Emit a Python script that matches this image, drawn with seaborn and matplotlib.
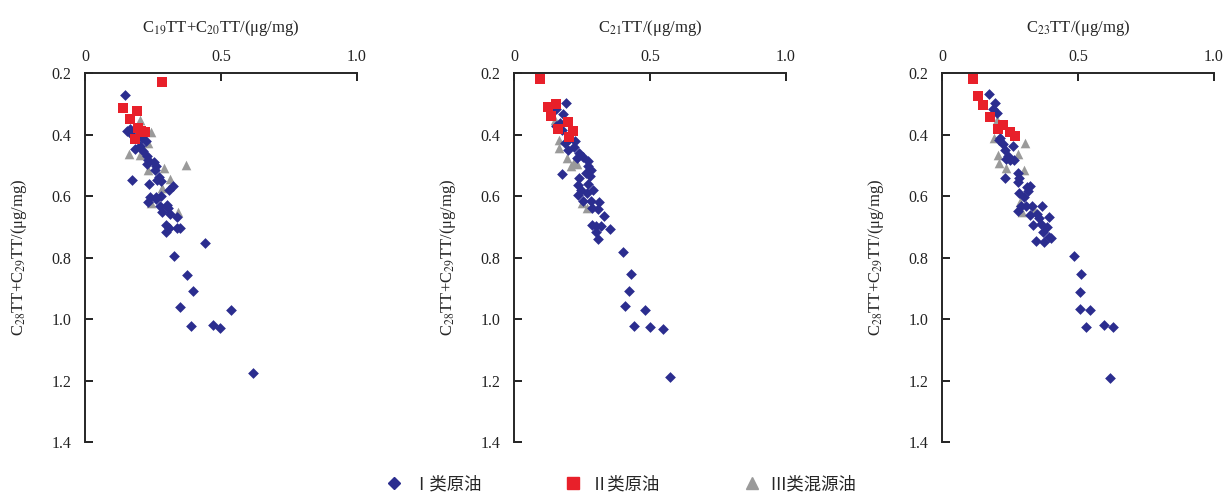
import pandas as pd
import matplotlib.pyplot as plt
import seaborn as sns

# --- data (x, y per oil class, per panel) ---
# panel 1: C19TT+C20TT
p1_I_x = [0.147, 0.153, 0.167, 0.173, 0.208, 0.224, 0.201, 0.183, 0.214, 0.229, 0.232, 0.228, 0.253, 0.262,
          0.256, 0.271, 0.265, 0.278, 0.234, 0.173, 0.324, 0.309, 0.281, 0.262, 0.240, 0.232, 0.260, 0.275,
          0.302, 0.305, 0.284, 0.314, 0.338, 0.297, 0.308, 0.297, 0.339, 0.350, 0.442, 0.327, 0.375, 0.397,
          0.350, 0.536, 0.391, 0.469, 0.497, 0.619]
p1_I_y = [0.271, 0.390, 0.381, 0.403, 0.412, 0.420, 0.437, 0.448, 0.455, 0.471, 0.482, 0.496, 0.491, 0.502,
          0.515, 0.537, 0.547, 0.550, 0.562, 0.547, 0.566, 0.582, 0.600, 0.602, 0.604, 0.618, 0.610, 0.634,
          0.629, 0.640, 0.651, 0.659, 0.669, 0.694, 0.703, 0.716, 0.703, 0.705, 0.752, 0.795, 0.857, 0.909,
          0.961, 0.970, 1.023, 1.020, 1.028, 1.175]
p1_II_x = [0.283, 0.138, 0.192, 0.165, 0.195, 0.222, 0.183, 0.205]
p1_II_y = [0.229, 0.314, 0.322, 0.349, 0.379, 0.393, 0.415, 0.388]
p1_III_x = [0.204, 0.244, 0.161, 0.201, 0.231, 0.232, 0.291, 0.370, 0.314, 0.283, 0.343, 0.244]
p1_III_y = [0.352, 0.392, 0.464, 0.466, 0.428, 0.515, 0.509, 0.499, 0.545, 0.575, 0.651, 0.623]

# panel 2: C21TT
p2_I_x = [0.190, 0.154, 0.181, 0.169, 0.154, 0.176, 0.187, 0.203, 0.224, 0.221, 0.199, 0.239, 0.255, 0.233,
          0.271, 0.271, 0.283, 0.263, 0.279, 0.239, 0.178, 0.234, 0.273, 0.289, 0.245, 0.267, 0.234, 0.255,
          0.282, 0.313, 0.286, 0.310, 0.332, 0.286, 0.301, 0.320, 0.353, 0.300, 0.308, 0.400, 0.429, 0.422,
          0.407, 0.483, 0.440, 0.500, 0.549, 0.575]
p2_I_y = [0.296, 0.316, 0.332, 0.361, 0.372, 0.385, 0.426, 0.415, 0.420, 0.441, 0.450, 0.461, 0.474, 0.477,
          0.486, 0.502, 0.517, 0.524, 0.534, 0.542, 0.529, 0.564, 0.562, 0.580, 0.582, 0.589, 0.598, 0.616,
          0.616, 0.620, 0.640, 0.642, 0.665, 0.694, 0.696, 0.697, 0.707, 0.716, 0.741, 0.783, 0.854, 0.908,
          0.957, 0.971, 1.022, 1.027, 1.033, 1.188]
p2_II_x = [0.096, 0.126, 0.154, 0.135, 0.197, 0.163, 0.216, 0.202]
p2_II_y = [0.220, 0.309, 0.301, 0.339, 0.360, 0.382, 0.390, 0.408]
p2_III_x = [0.151, 0.167, 0.167, 0.194, 0.210, 0.233, 0.221, 0.249, 0.270]
p2_III_y = [0.352, 0.417, 0.444, 0.475, 0.504, 0.496, 0.488, 0.623, 0.640]

# panel 3: C23TT
p3_I_x = [0.173, 0.196, 0.187, 0.204, 0.208, 0.214, 0.224, 0.261, 0.232, 0.242, 0.236, 0.251, 0.266, 0.233,
          0.278, 0.282, 0.278, 0.312, 0.324, 0.318, 0.282, 0.303, 0.290, 0.310, 0.330, 0.367, 0.278, 0.324,
          0.351, 0.356, 0.394, 0.333, 0.364, 0.386, 0.370, 0.392, 0.400, 0.345, 0.376, 0.487, 0.510, 0.506,
          0.507, 0.543, 0.529, 0.596, 0.628, 0.619]
p3_I_y = [0.269, 0.298, 0.317, 0.330, 0.417, 0.410, 0.430, 0.439, 0.450, 0.471, 0.480, 0.482, 0.484, 0.542,
          0.526, 0.542, 0.556, 0.571, 0.569, 0.583, 0.591, 0.604, 0.631, 0.634, 0.631, 0.634, 0.649, 0.663,
          0.660, 0.672, 0.669, 0.695, 0.692, 0.701, 0.716, 0.732, 0.737, 0.745, 0.748, 0.794, 0.854, 0.913,
          0.968, 0.970, 1.025, 1.018, 1.025, 1.193]
p3_II_x = [0.114, 0.132, 0.149, 0.175, 0.224, 0.206, 0.251, 0.269]
p3_II_y = [0.218, 0.276, 0.303, 0.344, 0.368, 0.382, 0.393, 0.406]
p3_III_x = [0.202, 0.190, 0.304, 0.206, 0.278, 0.211, 0.236, 0.300, 0.288, 0.294, 0.337]
p3_III_y = [0.352, 0.412, 0.428, 0.466, 0.463, 0.493, 0.509, 0.515, 0.618, 0.653, 0.643]

classes = ['Ⅰ类原油', 'Ⅱ类原油', 'Ⅲ类混源油']
x_titles = [r'C$_{19}$TT+C$_{20}$TT/(μg/mg)', r'C$_{21}$TT/(μg/mg)', r'C$_{23}$TT/(μg/mg)']
y_title = r'C$_{28}$TT+C$_{29}$TT/(μg/mg)'

panels = [
    (p1_I_x, p1_I_y, p1_II_x, p1_II_y, p1_III_x, p1_III_y),
    (p2_I_x, p2_I_y, p2_II_x, p2_II_y, p2_III_x, p2_III_y),
    (p3_I_x, p3_I_y, p3_II_x, p3_II_y, p3_III_x, p3_III_y),
]

palette = {classes[0]: '#2b2d8f', classes[1]: '#e8202a', classes[2]: '#9a9a9a'}
markers = {classes[0]: 'D', classes[1]: 's', classes[2]: '^'}
sizes = {classes[0]: 30, classes[1]: 48, classes[2]: 48}

sns.set_style('ticks')
plt.rcParams['font.family'] = ['Liberation Serif', 'Noto Sans CJK SC', 'DejaVu Sans']
plt.rcParams['mathtext.fontset'] = 'stix'

fig = plt.figure(figsize=(12.27, 4.99), dpi=100)
lefts = [85 / 1227, 514 / 1227, 942 / 1227]

for i, (ix, iy, iix, iiy, iiix, iiiy) in enumerate(panels):
    ax = fig.add_axes([lefts[i], 0.1142, 272 / 1227, 0.7395])
    # gray drawn first, then blue, then red on top
    df = pd.concat([
        pd.DataFrame({'x': iiix, 'y': iiiy, 'cls': classes[2]}),
        pd.DataFrame({'x': ix, 'y': iy, 'cls': classes[0]}),
        pd.DataFrame({'x': iix, 'y': iiy, 'cls': classes[1]}),
    ], ignore_index=True)
    for c in [classes[2], classes[0], classes[1]]:
        sub = df[df['cls'] == c]
        sns.scatterplot(data=sub, x='x', y='y', color=palette[c], marker=markers[c],
                        s=sizes[c], linewidth=0, ax=ax, legend=False, zorder=3)
    ax.set_xlim(0, 1.0)
    ax.set_ylim(1.4, 0.2)
    ax.set_xticks([0, 0.5, 1.0])
    ax.set_xticklabels(['0', '0.5', '1.0'])
    ax.set_yticks([0.2, 0.4, 0.6, 0.8, 1.0, 1.2, 1.4])
    ax.xaxis.tick_top()
    ax.xaxis.set_label_position('top')
    ax.spines['right'].set_visible(False)
    ax.spines['bottom'].set_visible(False)
    ax.spines['top'].set_linewidth(1.4)
    ax.spines['left'].set_linewidth(1.4)
    ax.tick_params(direction='in', length=6, width=1.4, labelsize=11.5, colors='#222222')
    ax.tick_params(axis='x', pad=6)
    ax.tick_params(axis='y', pad=10)
    ax.set_xlabel(x_titles[i], fontsize=12, labelpad=12)
    ax.set_ylabel(y_title, fontsize=12, labelpad=16)

handles = [
    plt.Line2D([], [], linestyle='', marker='D', markersize=6, color=palette[classes[0]]),
    plt.Line2D([], [], linestyle='', marker='s', markersize=9, color=palette[classes[1]]),
    plt.Line2D([], [], linestyle='', marker='^', markersize=9, color=palette[classes[2]]),
]
fig.legend(handles, classes, loc='lower center', ncol=3, frameon=False, fontsize=12.5,
           bbox_to_anchor=(0.506, -0.02), columnspacing=4.8, handlelength=1, handletextpad=0.5)

plt.savefig('out.png', dpi=100)
